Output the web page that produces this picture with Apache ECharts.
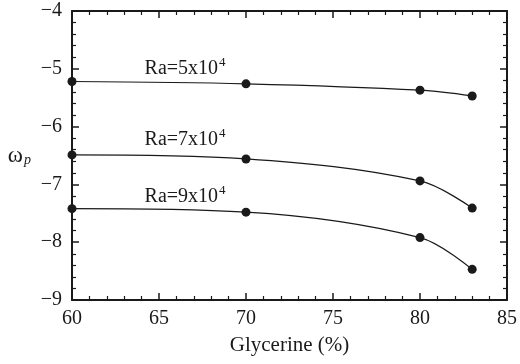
<!DOCTYPE html>
<html>
<head>
<meta charset="utf-8">
<script src="https://cdn.jsdelivr.net/npm/echarts@6/dist/echarts.min.js"></script>
<style>
  html, body { margin: 0; padding: 0; background: #fff; }
  #chart { width: 520px; height: 364px; }
</style>
</head>
<body>
<div id="chart"></div>
<script>
// glycerine concentration (%)
var glycerine = [60, 70, 80, 83];
// omega_p for each Rayleigh number
var ra5 = [-5.22, -5.26, -5.37, -5.47];
var ra7 = [-6.49, -6.56, -6.94, -7.41];
var ra9 = [-7.42, -7.48, -7.92, -8.47];
// curve labels (data coords)
var labelX = [66.5, 66.5, 66.5];
var labelY = [-5.0, -6.23, -7.22];
var labelMant = ['5', '7', '9'];

var serif = '"Liberation Serif", "DejaVu Serif", serif';
var ink = '#1a1a1a';
var fmt = function (v) { return String(v).replace('-', '\u2212'); };

function pairs(ys) {
    return glycerine.map(function (x, i) { return [x, ys[i]]; });
}

function lineSeries(name, ys) {
    return {
        name: name,
        type: 'line',
        data: pairs(ys),
        smooth: 0.35,
        symbol: 'circle',
        symbolSize: 9,
        itemStyle: { color: ink },
        lineStyle: { color: ink, width: 1.2 },
        xAxisIndex: 0,
        yAxisIndex: 0
    };
}

var tickCommon = function (shown, margin) {
    return {
        axisLine: { show: true, onZero: false, lineStyle: { color: ink, width: 2 } },
        axisTick: { show: true, inside: true, length: 7, lineStyle: { color: ink, width: 1.5 } },
        minorTick: { show: true, splitNumber: 5, length: 4, lineStyle: { color: ink, width: 1.2 } },
        splitLine: { show: false },
        axisLabel: {
            show: shown,
            color: ink,
            margin: margin,
            fontFamily: serif,
            fontSize: 20,
            formatter: fmt
        }
    };
};

var chart = echarts.init(document.getElementById('chart'));
var option = {
    animation: false,
    backgroundColor: '#fff',
    grid: { left: 72, right: 10, top: 11, bottom: 64, containLabel: false },
    xAxis: [
        Object.assign({
            type: 'value', min: 60, max: 85, interval: 5, position: 'bottom',
            name: 'Glycerine (%)', nameLocation: 'middle', nameGap: 35,
            nameTextStyle: { color: ink, fontFamily: serif, fontSize: 21 }
        }, tickCommon(true, 9)),
        Object.assign({ type: 'value', min: 60, max: 85, interval: 5, position: 'top' }, tickCommon(false, 8))
    ],
    yAxis: [
        Object.assign({
            type: 'value', min: -9, max: -4, interval: 1, position: 'left',
            name: '{w|\u03c9}{p|p}', nameLocation: 'middle', nameGap: 41, nameRotate: 0,
            nameTextStyle: {
                rich: {
                    w: { fontFamily: serif, fontSize: 23, color: ink },
                    p: { fontFamily: serif, fontSize: 14, fontStyle: 'italic', color: ink, padding: [10, 0, 0, 1] }
                }
            }
        }, tickCommon(true, 10)),
        Object.assign({ type: 'value', min: -9, max: -4, interval: 1, position: 'right' }, tickCommon(false, 8))
    ],
    series: [
        lineSeries('Ra=5x10^4', ra5),
        lineSeries('Ra=7x10^4', ra7),
        lineSeries('Ra=9x10^4', ra9),
        {
            type: 'scatter',
            symbolSize: 0,
            silent: true,
            itemStyle: { color: 'transparent', opacity: 1 },
            data: labelX.map(function (x, i) { return [x, labelY[i], labelMant[i]]; }),
            label: {
                show: true,
                position: 'inside',
                color: ink,
                opacity: 1,
                textBorderWidth: 0,
                formatter: function (p) { return '{b|Ra=' + p.value[2] + 'x10}{s|4}'; },
                rich: {
                    b: { fontFamily: serif, fontSize: 20, color: ink, textBorderWidth: 0 },
                    s: { fontFamily: serif, fontSize: 13, color: ink, textBorderWidth: 0, padding: [0, 0, 13, 1] }
                }
            }
        }
    ]
};
chart.setOption(option);
</script>
</body>
</html>
